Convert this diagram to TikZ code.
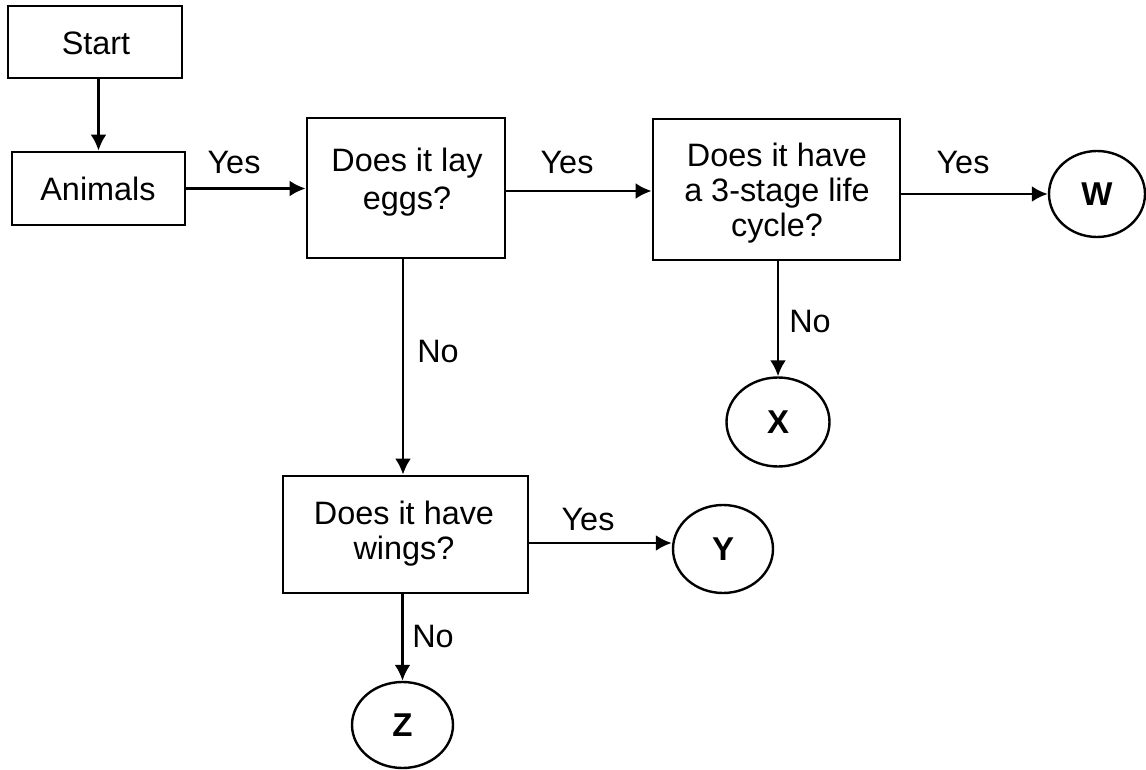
\documentclass[tikz,border=0pt]{standalone}
\usepackage{fontspec}
\setmainfont{Liberation Sans}
\usetikzlibrary{shapes.geometric,arrows.meta,calc}
\begin{document}
\begin{tikzpicture}[x=0.5pt,y=-0.5pt,
  box/.style={draw,line width=1.4pt,rectangle,inner sep=0pt},
  txt/.style={align=center,inner sep=0pt,font=\fontsize{16.2}{17.5}\selectfont},
  term/.style={draw,line width=1.2pt,ellipse,inner sep=0pt,font=\fontsize{16.5}{18}\selectfont\bfseries},
  arr/.style={line width=1.4pt,-{Latex[length=8pt,width=8pt]}},
  lbl/.style={font=\fontsize{16.2}{17.5}\selectfont}]
\useasboundingbox (0,0) rectangle (1146,770);
\node[box,minimum width=87pt,minimum height=36pt] (start) at (95,42) {};
\node[txt] (start-t) at (96,43) {Start};
\node[box,minimum width=86.5pt,minimum height=36.5pt] (animals) at (98.5,188.5) {};
\node[txt] (animals-t) at (98,189) {Animals};
\node[box,minimum width=99pt,minimum height=70pt] (eggs) at (406,188) {};
\node[txt,font=\fontsize{16.2}{19}\selectfont] (eggs-t) at (407,182) {Does it lay\\eggs?};
\node[box,minimum width=123.5pt,minimum height=70.5pt] (stage) at (776.5,189.5) {};
\node[txt] (stage-t) at (777,193) {Does it have\\a 3-stage life\\cycle?};
\node[term,minimum width=48pt,minimum height=43pt] (W) at (1097,194) {W};
\node[term,minimum width=51.5pt,minimum height=44.5pt] (X) at (778,422) {X};
\node[box,minimum width=122.5pt,minimum height=58.5pt] (wings) at (405.5,534.5) {};
\node[txt] (wings-t) at (404,534) {Does it have\\wings?};
\node[term,minimum width=50pt,minimum height=44pt] (Y) at (723,549) {Y};
\node[term,minimum width=50.5pt,minimum height=43pt] (Z) at (402.5,725) {Z};
\coordinate (wy) at ($(wings.east)+(0,8.5)$);
\draw[arr] (start.south -| animals) -- (animals.north);
\draw[arr] (animals.east) -- (animals.east -| eggs.west);
\draw[arr] ($(eggs.east)+(0,3)$) -- ($(eggs.east -| stage.west)+(0,3)$);
\draw[arr] (stage.east |- W) -- (W.west);
\draw[arr] (stage.south -| X) -- (X.north);
\draw[arr] ([xshift=-1.5pt]eggs.south) -- ([xshift=-1.5pt]eggs.south |- wings.north);
\draw[arr] (wy) -- (wy -| Y.west);
\draw[arr] (wings.south -| Z) -- (Z.north);
\node[lbl] (l1) at (234,163) {Yes};
\node[lbl] (l2) at (567,163) {Yes};
\node[lbl] (l3) at (963,163) {Yes};
\node[lbl] (l4) at (810,322) {No};
\node[lbl] (l5) at (438,352) {No};
\node[lbl] (l6) at (588,520) {Yes};
\node[lbl] (l7) at (433,637) {No};
\end{tikzpicture}
\end{document}
